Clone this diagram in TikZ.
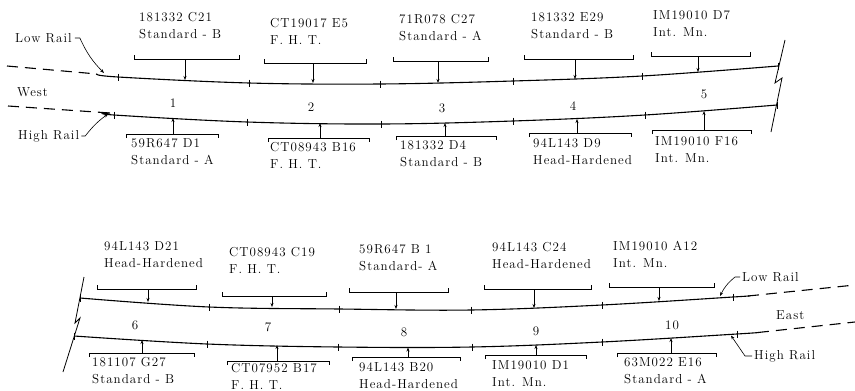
\documentclass[tikz,border=0pt]{standalone}
\usepackage{fontspec}
\usetikzlibrary{arrows.meta}
\newfontfamily\railfam{lmroman12-regular.otf}[LetterSpace=8]
\newcommand{\railfont}{\railfam\fontsize{13}{17}\selectfont}

\tikzset{
  rail/.style={line width=1.1pt},
  railext/.style={line width=1.1pt, dash pattern=on 11pt off 7pt},
  brk/.style={line width=0.8pt},
  tick/.style={line width=0.8pt},
  pointer/.style={line width=0.6pt, -{Stealth[length=4pt,width=3pt]}},
  lbl/.style={font=\railfont, align=left, anchor=west, inner sep=0pt},
  num/.style={font=\railfont, inner sep=0pt},
}

\begin{document}
\begin{tikzpicture}[x=1pt, y=-1pt]
\useasboundingbox (0,0) rectangle (855,391);

% ---- upper half: sections 1-5 (west end)
\draw[railext] (7,66) -- (97,74);
\draw[rail] plot[smooth, tension=0.6] coordinates
  {(97,74) (118,77) (249,83) (380,84) (513,81) (642,76) (778,66)};
\draw[railext] (8,106) -- (110,113);
\draw[rail] plot[smooth, tension=0.6] coordinates
  {(110,113) (114,115) (247,122) (381,124) (513,121) (645,115) (777,105)};
\foreach \x/\y in {118/77, 249/83, 380/84, 513/81, 642/76, 778/66,
                   114/115, 247/122, 381/124, 513/121, 645/115, 777/105}
  \draw[tick] (\x,\y) ++(0,-3.5) -- ++(0,7);
\draw[brk] (785,40) -- (775,83) -- (782,78) -- (771,132); % break

% ---- lower half: sections 6-10 (east end)
\draw[rail] plot[smooth, tension=0.6] coordinates
  {(80,298) (209,307) (339,309) (471,310) (602,305) (733,297) (748,296)};
\draw[railext] (748,296) -- (855,285);
\draw[rail] plot[smooth, tension=0.6] coordinates
  {(74,336) (207,344) (338,347) (472,347) (602,342) (737,334) (758,332.5)};
\draw[railext] (758,332.5) -- (855,322);
\foreach \x/\y in {80/298, 209/307, 339/309, 471/310, 602/305, 733/297,
                   74/336, 207/344, 338/347, 472/347, 602/342, 737/334}
  \draw[tick] (\x,\y) ++(0,-3.5) -- ++(0,7);
\draw[brk] (84,277) -- (75,323) -- (80,318) -- (63,372); % break

% brackets over the low rail
\foreach \n/\xa/\xb/\yb/\xt/\yt in {t1/134/239/59/185/80, t2/264/366/63/313/83,
    t3/393/488/61/438/83, t4/524/633/59/575/79, t5/651/750/56/698/72,
    t6/97/196/289/148/302, t7/222/326/296/272/307, t8/349/448/292/396/309,
    t9/484/591/289/534/308, t10/609/714/287/659/301} {
  \draw[brk] (\xa,\yb-4) -- (\xa,\yb) -- (\xb,\yb) -- (\xb,\yb-4);
  \coordinate (\n-m) at (\xt,\yb);
  \coordinate (\n-r) at (\xt,\yt);
  \draw[pointer] (\n-m) -- (\n-r);
}
% brackets under the high rail
\foreach \n/\xa/\xb/\yb/\xt/\yt in {b1/126/218/134/173/118, b2/268/369/138/320/123,
    b3/396/496/136/445/123, b4/529/631/133/577/119, b5/652/751/130/704/111,
    b6/89/194/353/142/340, b7/227/329/361/277/345, b8/352/460/357/408/347.5,
    b9/485/586/355/536/345, b10/617/716/353/671/338} {
  \draw[brk] (\xa,\yb+4) -- (\xa,\yb) -- (\xb,\yb) -- (\xb,\yb+4);
  \coordinate (\n-m) at (\xt,\yb);
  \coordinate (\n-r) at (\xt,\yt);
  \draw[pointer] (\n-m) -- (\n-r);
}

% rail labels
\node[lbl] (t1) at (139,25.5) {181332 C21\\Standard - B};
\node[lbl] (t2) at (270,31) {CT19017 E5\\F. H. T.};
\node[lbl] (t3) at (399,27.5) {71R078 C27\\Standard - A};
\node[lbl] (t4) at (531,25.5) {181332 E29\\Standard - B};
\node[lbl] (t5) at (653,24) {IM19010 D7\\Int. Mn.};
\node[lbl] (b1) at (131,151.5) {59R647 D1\\Standard - A};
\node[lbl] (b2) at (270,155.5) {CT08943 B16\\F. H. T.};
\node[lbl] (b3) at (400,153.5) {181332 D4\\Standard - B};
\node[lbl] (b4) at (533,151.5) {94L143 D9\\Head-Hardened};
\node[lbl] (b5) at (655,149.5) {IM19010 F16\\Int. Mn.};
\node[lbl] (t6) at (104,254.5) {94L143 D21\\Head-Hardened};
\node[lbl] (t7) at (229,260) {CT08943 C19\\F. H. T.};
\node[lbl] (t8) at (359,257.5) {59R647 B 1\\Standard- A};
\node[lbl] (t9) at (492,255.5) {94L143 C24\\Head-Hardened};
\node[lbl] (t10) at (613,254) {IM19010 A12\\Int. Mn.};
\node[lbl] (b6) at (92,370.5) {181107 G27\\Standard - B};
\node[lbl] (b7) at (231,376) {CT07952 B17\\F. H. T.};
\node[lbl] (b8) at (359,376) {94L143 B20\\Head-Hardened};
\node[lbl] (b9) at (492,374) {IM19010 D1\\Int. Mn.};
\node[lbl] (b10) at (624,370.5) {63M022 E16\\Standard - A};

% section numbers
\foreach \k/\x/\y in {1/173/103, 2/311/107, 3/442/108, 4/573/106, 5/704/94,
                      6/135/325, 7/268/327, 8/404/332, 9/536/331, 10/672/325}
  \node[num] (n\k) at (\x,\y) {\k};

% ends of the track
\node[lbl] (west) at (17,92) {West};
\node[lbl] (east) at (776,315) {East};
\node[lbl] (lowW) at (15,38) {Low Rail};
\node[lbl] (highW) at (18,136) {High Rail};
\node[lbl] (lowE) at (742,277) {Low Rail};
\node[lbl] (highE) at (754,356) {High Rail};
\coordinate (lowW-r) at (104,73);
\coordinate (highW-r) at (108,114);
\coordinate (lowE-r) at (720,296);
\coordinate (highE-r) at (731,335.5);
\draw[pointer] ([xshift=3pt]lowW.east) -- ++(5,0) to[bend right=10] (lowW-r);
\draw[pointer] ([xshift=2pt]highW.east) -- ++(4,0) to[bend left=8] (highW-r);
\draw[pointer] ([xshift=-2pt]lowE.west) -- ++(-5,0) to[bend right=12] (lowE-r);
\draw[pointer] ([xshift=-2pt]highE.west) -- ++(-7,0) -- (highE-r);
\end{tikzpicture}
\end{document}
